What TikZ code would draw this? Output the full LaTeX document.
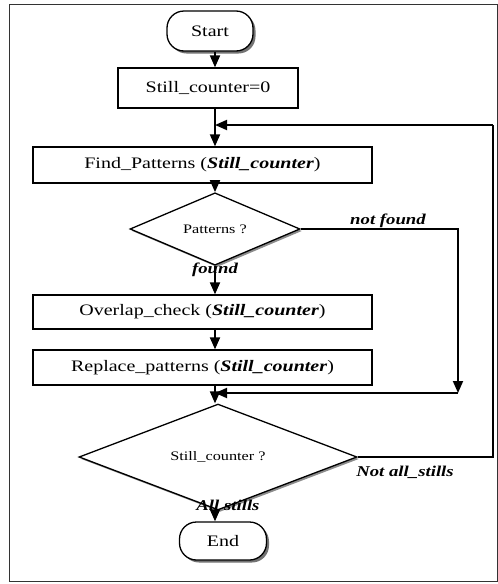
\documentclass[tikz,border=0pt]{standalone}
\usepackage{fontspec}
\setmainfont{Liberation Serif}[FakeStretch=1.25]
\usetikzlibrary{shapes.geometric,shadows,arrows.meta}
\begin{document}
\begin{tikzpicture}[x=1pt,y=-1pt,
  frame/.style={draw=black!80, line width=1pt},
  term/.style={draw, line width=1.3pt, rounded corners=17pt, minimum width=86pt,
    minimum height=40pt, fill=white,
    drop shadow={shadow xshift=2.5pt, shadow yshift=-2.5pt, fill=black!55, opacity=1},
    font=\fontsize{16}{18}\selectfont},
  procbox/.style={draw, line width=1.3pt, fill=white, minimum width=339pt,
    font=\fontsize{16}{18}\selectfont},
  decision/.style={diamond, draw, line width=1.3pt, inner sep=0pt, fill=white,
    drop shadow={shadow xshift=2pt, shadow yshift=-2pt, fill=black!45, opacity=1},
    font=\fontsize{13}{15}\selectfont},
  arr/.style={line width=1.8pt, -{Triangle[length=12pt,width=10pt]}},
  plain/.style={line width=1.8pt},
  lbl/.style={font=\fontsize{15}{17}\selectfont\bfseries\itshape}]
\useasboundingbox (0,0) rectangle (498,584);
\fill[white] (0,0) rectangle (498,584);
\draw[frame] (9,4) rectangle (497,581);

% flow nodes
\node[term] (start) at (210,31) {Start};
\node[procbox, minimum width=180pt, minimum height=40pt] (init) at (208,88) {Still\_counter=0};
\node[procbox, minimum height=36pt] (find) at (202.5,165) {Find\_Patterns (\textbf{\textit{Still\_counter}})};
\node[decision, minimum width=170pt, minimum height=52pt] (pat) at (215,229) {Patterns ?};
\node[procbox, minimum height=34pt] (ovl) at (202.5,312) {Overlap\_check (\textbf{\textit{Still\_counter}})};
\node[procbox, minimum height=35pt] (rep) at (202.5,367.5) {Replace\_patterns (\textbf{\textit{Still\_counter}})};
\node[decision, minimum width=278pt, minimum height=70pt] (cnt) at (218,457) {Still\_counter ?};
\node[term, minimum width=87pt, minimum height=38pt] (end) at (223,541) {End};

% main spine and loop corners
\coordinate (sp) at (215,0);
\coordinate (j1) at (215,125);
\coordinate (j2) at (215,393);
\coordinate (c1) at (458,393);
\coordinate (c2) at (493,125);

\draw[arr] (start.south -| sp) -- (init.north -| sp);
\draw[arr] (init.south -| sp) -- (find.north -| sp);
\draw[arr] (find.south -| sp) -- (pat.north);
\draw[arr] (pat.south) -- (ovl.north -| sp);
\draw[arr] (ovl.south -| sp) -- (rep.north -| sp);
\draw[plain] (rep.south -| sp) -- (j2);
\draw[arr] (j2) -- (cnt.north -| sp);
\draw[arr] (cnt.south -| sp) -- (end.north -| sp);

% "not found" branch
\draw[arr] (pat.east) -| (c1);
\draw[arr] (c1) -- (j2);

% loop back for the next still
\draw[plain] (cnt.east) -| (c2);
\draw[arr] (c2) -- (j1);

% branch labels
\node[lbl] (lnf) at (388,221) {not found};
\node[lbl] (lf) at (215,270) {found};
\node[lbl] (lna) at (405,472) {Not all\_stills};
\node[lbl] (las) at (228,505) {All stills};
\end{tikzpicture}
\end{document}
